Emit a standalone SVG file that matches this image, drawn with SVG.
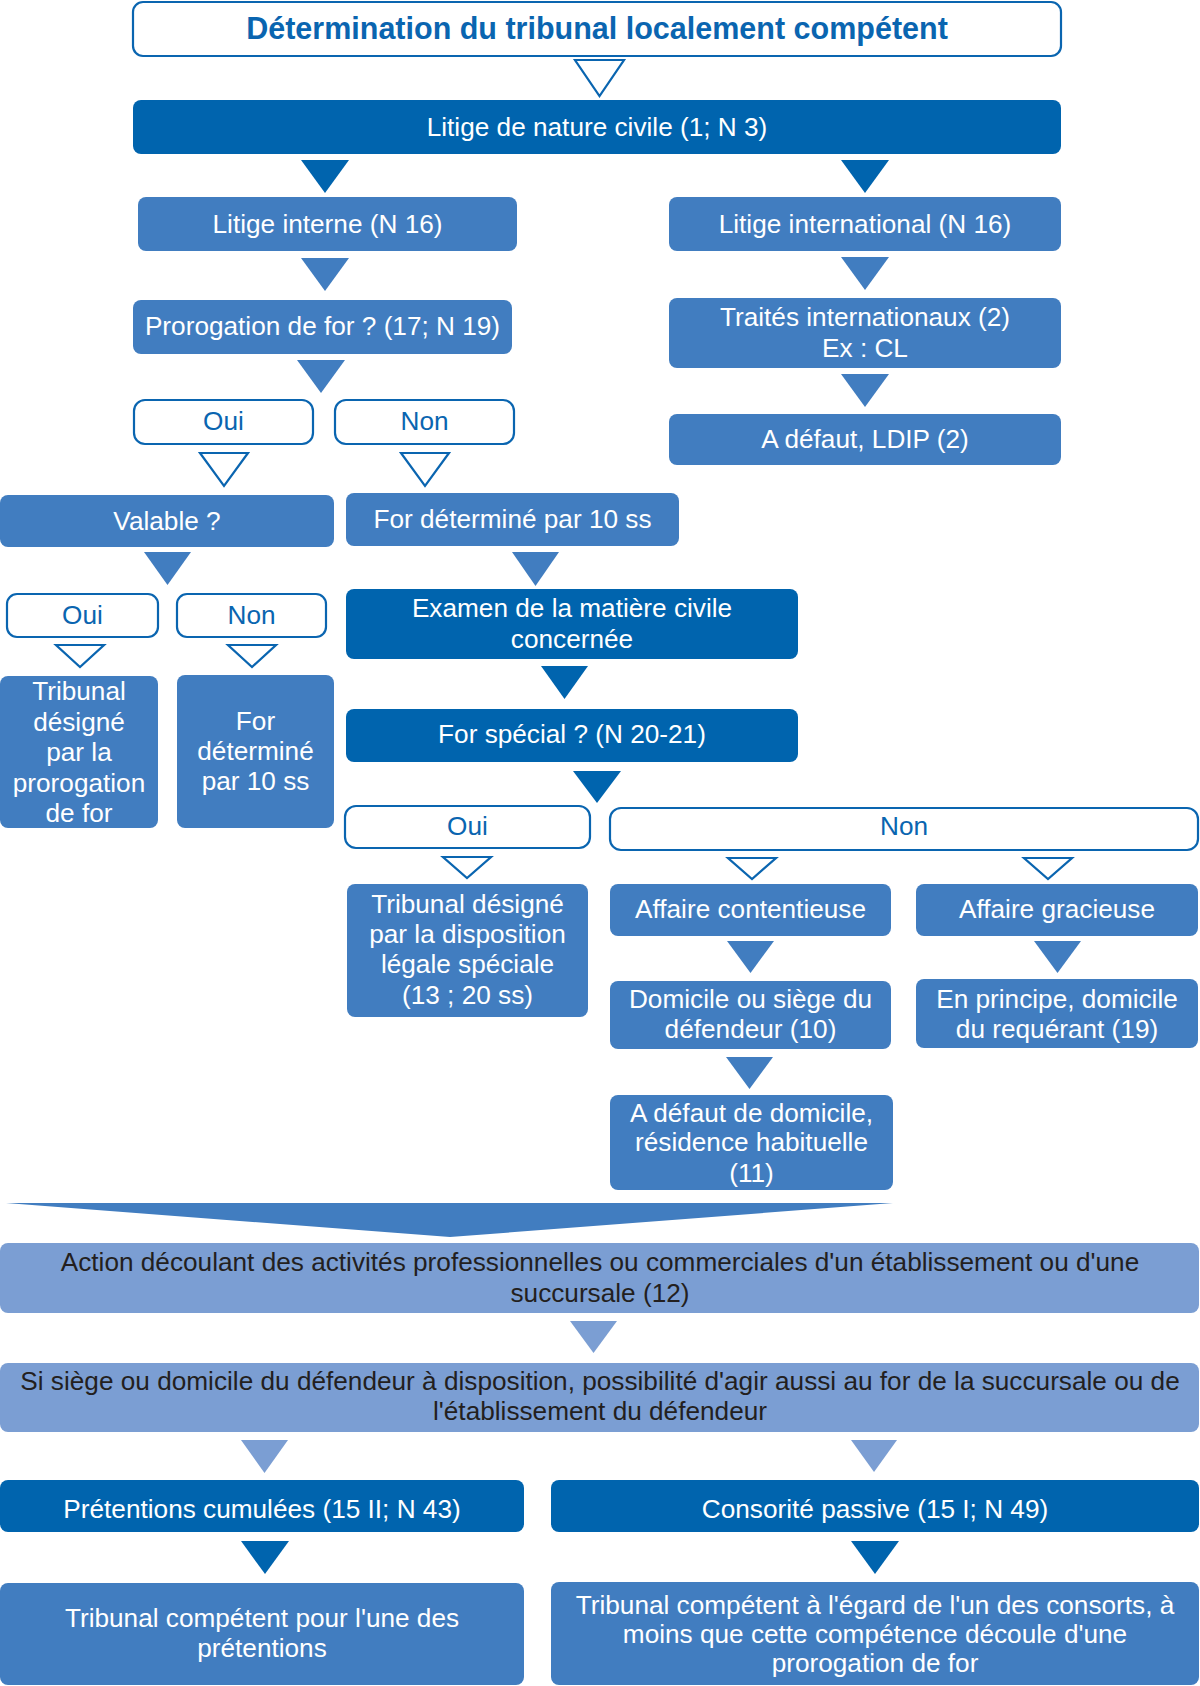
<svg xmlns="http://www.w3.org/2000/svg" width="1200" height="1686" viewBox="0 0 1200 1686">
<style>
text{font-family:"Liberation Sans",Arial,sans-serif;font-size:26.2px;text-anchor:middle}
.dk{fill:#0064AE}
.md{fill:#417DC0}
.lt{fill:#7B9ED3}
.ol{fill:#fff;stroke:#0A65B0;stroke-width:2.2}
.op{fill:#fff;stroke:#0A65B0;stroke-width:2.2;stroke-linejoin:miter}
.tw{fill:#fff}
.tb{fill:#0A65B0}
.tk{fill:#231F20}
.title{font-weight:bold;font-size:30.5px;fill:#0A65B0}
</style>
<rect width="1200" height="1686" fill="#fff"/>
<g id="connectors">
<polygon class="op" points="575,60 624,60 599.5,96"/>
<polygon class="dk" points="301,160 349,160 325,193"/>
<polygon class="dk" points="841,160 889,160 865,193"/>
<polygon class="md" points="301,258 349,258 325,291"/>
<polygon class="md" points="841,257 889,257 865,290"/>
<polygon class="md" points="841,374 889,374 865,407"/>
<polygon class="md" points="297,360 345,360 321,393"/>
<polygon class="op" points="200,453 248,453 224,486"/>
<polygon class="op" points="401,453 449,453 425,486"/>
<polygon class="md" points="144,552 191,552 167.5,585"/>
<polygon class="op" points="56,645 104,645 80,667"/>
<polygon class="op" points="228,645 276,645 252,667"/>
<polygon class="md" points="512,552 559,552 535.5,586"/>
<polygon class="dk" points="541,666 588,666 564.5,699"/>
<polygon class="dk" points="573,771 621,771 597,803"/>
<polygon class="op" points="443,857 491,857 467,878"/>
<polygon class="op" points="728,858 776,858 752,879"/>
<polygon class="op" points="1024,858 1072,858 1048,879"/>
<polygon class="md" points="727,941 774,941 750.5,973"/>
<polygon class="md" points="1034,941 1081,941 1057.5,973"/>
<polygon class="md" points="726,1057 773,1057 749.5,1089"/>
<polygon class="md" points="6,1203 893,1203 450,1237"/>
<polygon class="lt" points="570,1321 617,1321 593.5,1353"/>
<polygon class="lt" points="241,1440 288,1440 264.5,1473"/>
<polygon class="lt" points="851,1440 897,1440 874,1472"/>
<polygon class="dk" points="241,1541 289,1541 265,1574"/>
<polygon class="dk" points="851,1541 899,1541 875,1574"/>
</g>
<g id="n-title"><rect class="ol" x="133" y="2" width="928" height="54" rx="10"/><text class="title" x="597" y="39">Détermination du tribunal localement compétent</text></g>
<g id="n-civil"><rect class="dk" x="133" y="100" width="928" height="54" rx="8"/><text class="tw" x="597" y="136">Litige de nature civile (1; N 3)</text></g>
<g id="n-interne"><rect class="md" x="138" y="197" width="379" height="54" rx="8"/><text class="tw" x="327.5" y="233">Litige interne (N 16)</text></g>
<g id="n-intl"><rect class="md" x="669" y="197" width="392" height="54" rx="8"/><text class="tw" x="865" y="233">Litige international (N 16)</text></g>
<g id="n-prorog"><rect class="md" x="133" y="300" width="379" height="54" rx="8"/><text class="tw" x="322.5" y="335">Prorogation de for ? (17; N 19)</text></g>
<g id="n-traites"><rect class="md" x="669" y="298" width="392" height="70" rx="8"/><text class="tw" x="865" y="326">Traités internationaux (2)</text><text class="tw" x="865" y="357">Ex : CL</text></g>
<g id="n-ldip"><rect class="md" x="669" y="414" width="392" height="51" rx="8"/><text class="tw" x="865" y="448">A défaut, LDIP (2)</text></g>
<g id="n-oui1"><rect class="ol" x="134" y="400" width="179" height="44" rx="11"/><text class="tb" x="223.5" y="430">Oui</text></g>
<g id="n-non1"><rect class="ol" x="335" y="400" width="179" height="44" rx="11"/><text class="tb" x="424.5" y="430">Non</text></g>
<g id="n-valable"><rect class="md" x="0" y="495" width="334" height="52" rx="8"/><text class="tw" x="167" y="530">Valable ?</text></g>
<g id="n-for10"><rect class="md" x="346" y="493" width="333" height="53" rx="8"/><text class="tw" x="512.5" y="528">For déterminé par 10 ss</text></g>
<g id="n-oui2"><rect class="ol" x="7" y="594" width="151" height="43" rx="10"/><text class="tb" x="82.5" y="624">Oui</text></g>
<g id="n-non2"><rect class="ol" x="177" y="594" width="149" height="43" rx="10"/><text class="tb" x="251.5" y="624">Non</text></g>
<g id="n-trib-prorog"><rect class="md" x="0" y="676" width="158" height="152" rx="8"/><text class="tw" x="79" y="700">Tribunal</text><text class="tw" x="79" y="730.5">désigné</text><text class="tw" x="79" y="761">par la</text><text class="tw" x="79" y="791.5">prorogation</text><text class="tw" x="79" y="822">de for</text></g>
<g id="n-for10b"><rect class="md" x="177" y="675" width="157" height="153" rx="8"/><text class="tw" x="255.5" y="730">For</text><text class="tw" x="255.5" y="760">déterminé</text><text class="tw" x="255.5" y="790">par 10 ss</text></g>
<g id="n-examen"><rect class="dk" x="346" y="589" width="452" height="70" rx="8"/><text class="tw" x="572" y="617">Examen de la matière civile</text><text class="tw" x="572" y="648">concernée</text></g>
<g id="n-special"><rect class="dk" x="346" y="709" width="452" height="53" rx="8"/><text class="tw" x="572" y="743">For spécial ? (N 20-21)</text></g>
<g id="n-oui3"><rect class="ol" x="345" y="806" width="245" height="42" rx="11"/><text class="tb" x="467.5" y="835">Oui</text></g>
<g id="n-non3"><rect class="ol" x="610" y="808" width="588" height="42" rx="11"/><text class="tb" x="904" y="835">Non</text></g>
<g id="n-trib-spec"><rect class="md" x="347" y="884" width="241" height="133" rx="8"/><text class="tw" x="467.5" y="913">Tribunal désigné</text><text class="tw" x="467.5" y="943">par la disposition</text><text class="tw" x="467.5" y="973">légale spéciale</text><text class="tw" x="467.5" y="1004">(13 ; 20 ss)</text></g>
<g id="n-content"><rect class="md" x="610" y="884" width="281" height="52" rx="8"/><text class="tw" x="750.5" y="918">Affaire contentieuse</text></g>
<g id="n-gracieuse"><rect class="md" x="916" y="884" width="282" height="52" rx="8"/><text class="tw" x="1057" y="918">Affaire gracieuse</text></g>
<g id="n-domicile"><rect class="md" x="610" y="981" width="281" height="68" rx="8"/><text class="tw" x="750.5" y="1008">Domicile ou siège du</text><text class="tw" x="750.5" y="1038">défendeur (10)</text></g>
<g id="n-requerant"><rect class="md" x="916" y="979" width="282" height="69" rx="8"/><text class="tw" x="1057" y="1008">En principe, domicile</text><text class="tw" x="1057" y="1038">du requérant (19)</text></g>
<g id="n-residence"><rect class="md" x="610" y="1095" width="283" height="95" rx="8"/><text class="tw" x="751.5" y="1122">A défaut de domicile,</text><text class="tw" x="751.5" y="1151">résidence habituelle</text><text class="tw" x="751.5" y="1182">(11)</text></g>
<g id="n-action"><rect class="lt" x="0" y="1243" width="1199" height="70" rx="8"/><text class="tk" x="600" y="1271">Action découlant des activités professionnelles ou commerciales d'un établissement ou d'une</text><text class="tk" x="600" y="1302">succursale (12)</text></g>
<g id="n-siege"><rect class="lt" x="0" y="1363" width="1199" height="69" rx="8"/><text class="tk" x="600" y="1390">Si siège ou domicile du défendeur à disposition, possibilité d'agir aussi au for de la succursale ou de</text><text class="tk" x="600" y="1420">l'établissement du défendeur</text></g>
<g id="n-pretentions"><rect class="dk" x="0" y="1480" width="524" height="52" rx="8"/><text class="tw" x="262" y="1518">Prétentions cumulées (15 II; N 43)</text></g>
<g id="n-consorite"><rect class="dk" x="551" y="1480" width="648" height="52" rx="8"/><text class="tw" x="875" y="1518">Consorité passive (15 I; N 49)</text></g>
<g id="n-trib-pret"><rect class="md" x="0" y="1583" width="524" height="102" rx="8"/><text class="tw" x="262" y="1627">Tribunal compétent pour l'une des</text><text class="tw" x="262" y="1657">prétentions</text></g>
<g id="n-trib-cons"><rect class="md" x="551" y="1582" width="648" height="103" rx="8"/><text class="tw" x="875" y="1614">Tribunal compétent à l'égard de l'un des consorts, à</text><text class="tw" x="875" y="1643">moins que cette compétence découle d'une</text><text class="tw" x="875" y="1672">prorogation de for</text></g>
</svg>
